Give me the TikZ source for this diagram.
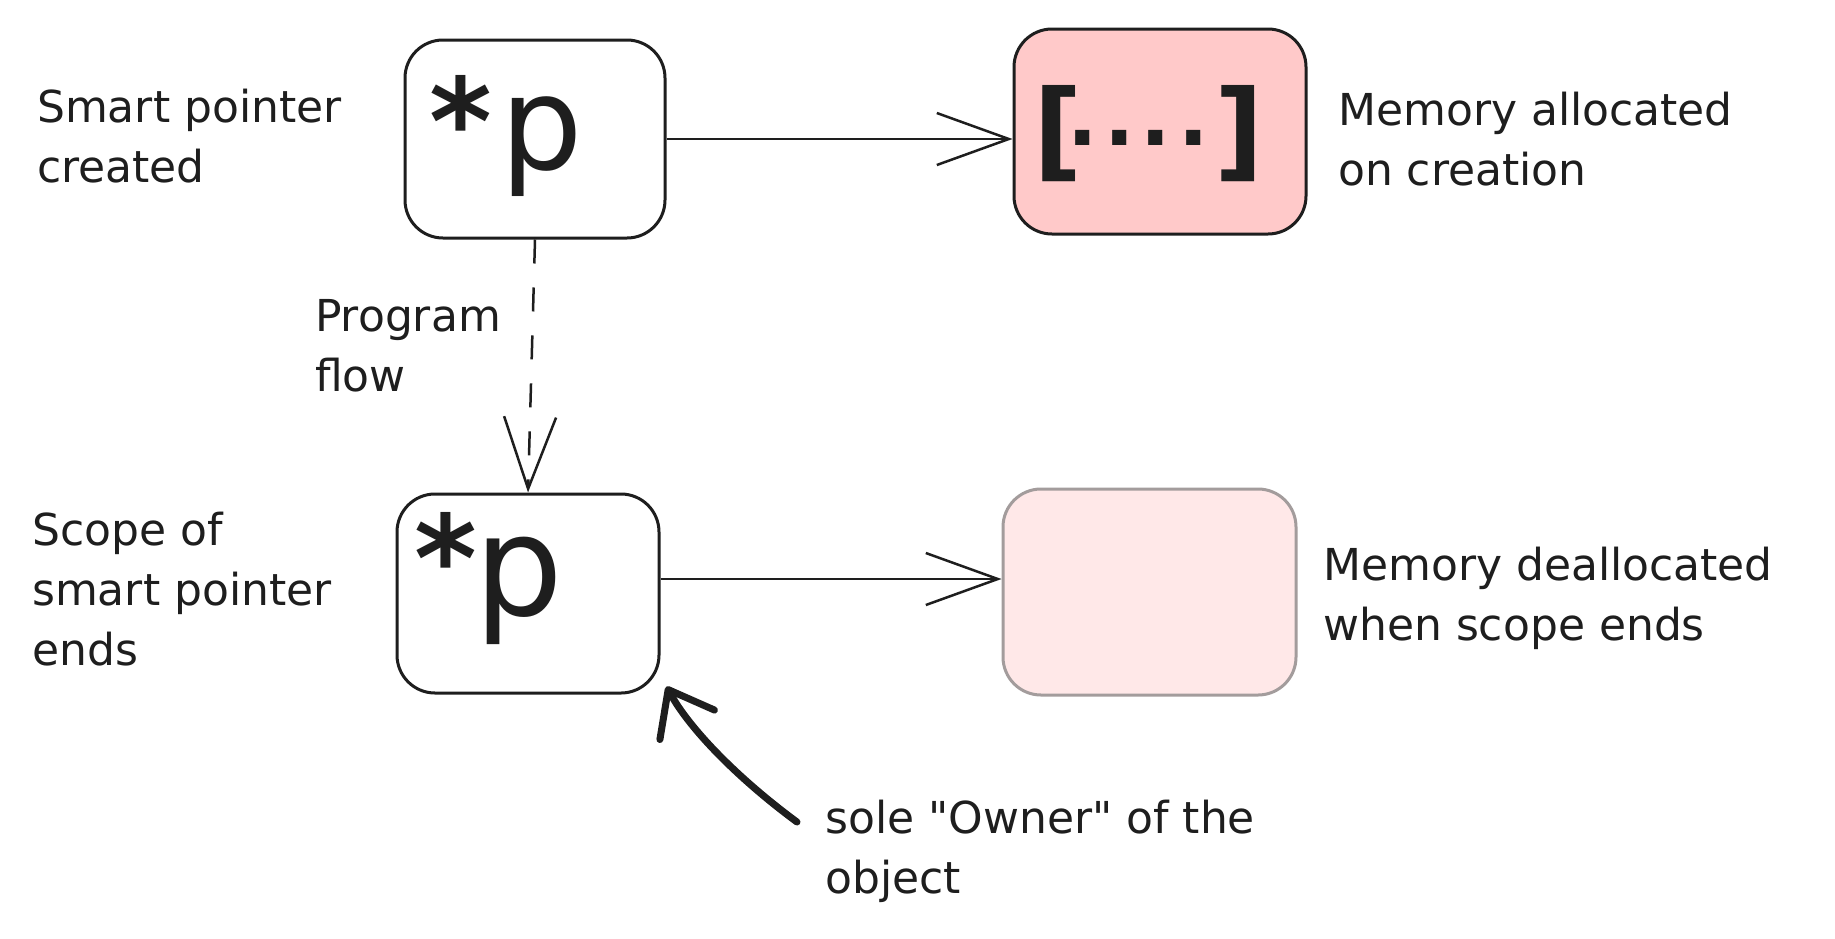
\documentclass[tikz,border=0pt]{standalone}
\usepackage{fontspec}
\setmainfont{DejaVu Sans}[Ligatures=TeXOff]
\usetikzlibrary{arrows.meta}
\definecolor{ink}{HTML}{1E1E1E}
\definecolor{redfill}{HTML}{FFC9C9}
\definecolor{palefill}{HTML}{FFE8E8}
\definecolor{palestroke}{HTML}{A39C9C}
\begin{document}
\begin{tikzpicture}[x=1pt,y=-1pt,
  box/.style={draw=ink, line width=3pt, rounded corners=38pt, inner sep=0pt, fill=white},
  lbl/.style={font=\fontsize{44}{60}\selectfont, text=ink, align=left, anchor=north west, inner sep=0pt},
  bigp/.style={text=ink, anchor=base west, inner sep=0pt},
  arr/.style={draw=ink, line width=2.5pt, -{Straight Barb[length=72pt,width=52pt]}},
  own/.style={draw=ink, line width=7pt, line cap=round, -{Straight Barb[length=40pt,width=62pt,round]}}
]
\useasboundingbox (0,0) rectangle (1835,938);
\fill[white] (0,0) rectangle (1835,938);

% boxes
\node[box, minimum width=260pt, minimum height=198pt] (A) at (535,139) {};
\node[box, fill=redfill, minimum width=292pt, minimum height=205pt] (B) at (1160,131.5) {};
\node[box, minimum width=262pt, minimum height=199pt] (C) at (528,593.5) {};
\node[box, draw=palestroke, fill=palefill, minimum width=293pt, minimum height=206pt] (D) at (1149.5,592) {};

% box contents
\node[bigp] (pA) at (429,169) {\raisebox{5pt}{\fontsize{120}{120}\selectfont\bfseries *}\kern9pt{\fontsize{130}{130}\selectfont p}};
\node[bigp] (pC) at (414,615) {\raisebox{14pt}{\fontsize{120}{120}\selectfont\bfseries *}\kern-2pt{\fontsize{140}{140}\selectfont p}};
\node[bigp] (dots) at (1033,167) {{\fontsize{108}{108}\selectfont\bfseries [}\kern-15.5pt\raisebox{22pt}{\fontsize{80}{80}\selectfont\bfseries .\kern6.6pt.\kern6.6pt.\kern6.6pt.}\kern5.8pt{\fontsize{108}{108}\selectfont\bfseries ]}};

% labels
\node[lbl] (t1) at (37,89) {Smart pointer\\created};
\node[lbl] (t2) at (1338,92) {Memory allocated\\on creation};
\node[lbl] (t3) at (315,299) {Program\\flow};
\node[lbl] (t4) at (32,512) {Scope of\\smart pointer\\ends};
\node[lbl] (t5) at (1323,547) {Memory deallocated\\when scope ends};
\node[lbl] (t6) at (825,800) {sole "Owner" of the\\object};

% connectors
\draw[arr] (A.east) -- (A.east -| B.west);
\draw[arr, dash pattern=on 24pt off 24pt] (A.south) -- (C.north);
\coordinate (c1) at ([yshift=14.5pt]C.east);
\draw[arr] (c1) -- (c1 -| D.west);
\coordinate (tail) at ([shift={(-28,22)}]t6.north west);
\coordinate (tip) at ([shift={(6,-8)}]C.south east);
\draw[own] (tail) .. controls (740,780) and (690,730) .. (tip);
\end{tikzpicture}
\end{document}
